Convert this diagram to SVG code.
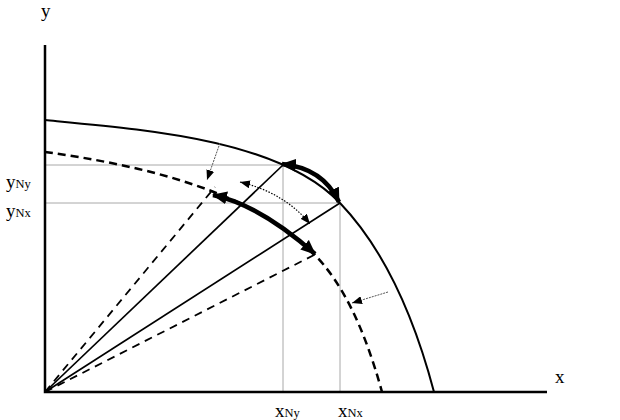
<svg xmlns="http://www.w3.org/2000/svg" width="620" height="420" viewBox="0 0 620 420">
<style>
.lbl{font-family:"Liberation Serif","Times New Roman",serif;font-size:19px;fill:#000}
.sub{font-size:12.5px}
.guide{stroke:#a8a8a8;stroke-width:1;fill:none}
.axis{stroke:#000;stroke-width:2.5;fill:none}
.ppf{stroke:#000;stroke-width:2;fill:none}
.ppfd{stroke:#000;stroke-width:2.5;fill:none;stroke-dasharray:8,5}
.ray{stroke:#000;stroke-width:1.7;fill:none}
.rayd{stroke:#000;stroke-width:1.8;fill:none;stroke-dasharray:8,6}
.thick{stroke:#000;stroke-width:4.5;fill:none}
.dot{stroke:#000;stroke-width:1.2;fill:none;stroke-dasharray:1.5,1.5}
.thin{stroke:#555;stroke-width:1;fill:none;stroke-dasharray:2,1}
</style>
<defs>
<marker id="big" viewBox="0 0 14 12" refX="13" refY="6" markerWidth="15" markerHeight="13" markerUnits="userSpaceOnUse" orient="auto-start-reverse">
<path d="M0,0 L14,6 L0,12 Z" fill="#000"/>
</marker>
<marker id="small" viewBox="0 0 10 8" refX="10" refY="4" markerWidth="10" markerHeight="8" markerUnits="userSpaceOnUse" orient="auto-start-reverse">
<path d="M0,0 L10,4 L0,8 Z" fill="#000"/>
</marker>
</defs>
<g id="guides">
<path class="guide" d="M45,165 H283 V392"/>
<path class="guide" d="M45,203 H340 V392"/>
</g>
<g id="axes">
<path class="axis" d="M45,45 V392 H547"/>
</g>
<g id="curves">
<path id="ppf-outer" class="ppf" d="M45,120 C150,130 280,140 340,203 C385,250 415,320 434,392"/>
<path id="ppf-inner" class="ppfd" d="M45,152 C140,165 250,190 313,253 C343,283 365,330 382,392"/>
</g>
<g id="rays">
<path class="ray" d="M45,392 L283,165"/>
<path class="ray" d="M45,392 L340,203"/>
<path class="rayd" d="M45,392 L215,187"/>
<path class="rayd" d="M45,392 L314,255"/>
</g>
<g id="connectors">
<path class="thick" d="M282,164 Q323,168 339,202" marker-start="url(#big)" marker-end="url(#big)"/>
<path class="thick" d="M213,195 Q260,205 315,254" marker-start="url(#big)" marker-end="url(#big)"/>
<path class="dot" d="M240,182 Q285,193 310,224" marker-start="url(#small)" marker-end="url(#small)"/>
<path class="thin" d="M220,143 L207,180" marker-end="url(#small)"/>
<path class="thin" d="M388,292 L352,303" marker-end="url(#small)"/>
</g>
<g id="labels">
<text class="lbl" x="41" y="17">y</text>
<text class="lbl" x="555" y="383">x</text>
<text class="lbl" x="6" y="188">y<tspan class="sub">Ny</tspan></text>
<text class="lbl" x="6" y="217">y<tspan class="sub">Nx</tspan></text>
<text class="lbl" x="275" y="417">x<tspan class="sub">Ny</tspan></text>
<text class="lbl" x="338" y="417">x<tspan class="sub">Nx</tspan></text>
</g>
</svg>
